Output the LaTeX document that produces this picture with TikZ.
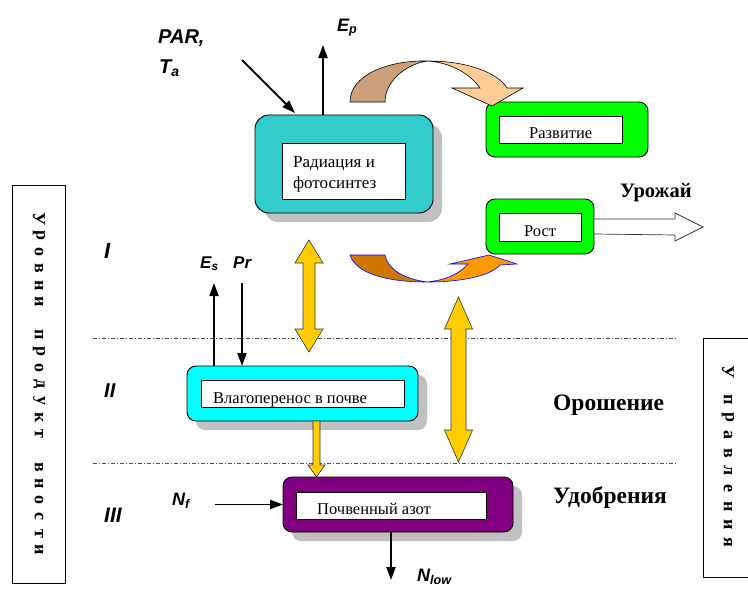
\documentclass[tikz,border=0pt]{standalone}
\usepackage{fontspec}
\setmainfont{Liberation Serif}
\newfontfamily\sansf{Liberation Sans}
\usetikzlibrary{arrows.meta,shadows,calc}
\definecolor{teal1}{HTML}{33CCCC}
\definecolor{green1}{HTML}{00FF00}
\definecolor{cyan1}{HTML}{00FFFF}
\definecolor{purple1}{HTML}{800080}
\definecolor{shade1}{HTML}{C0C0C0}
\definecolor{yel1}{HTML}{FFCC00}
\definecolor{tan1}{HTML}{CC9F78}
\definecolor{peach1}{HTML}{FFCC99}
\definecolor{dorange1}{HTML}{CC7700}
\definecolor{orange1}{HTML}{FF9900}
\newcommand\lblfont[1]{\sansf\bfseries\itshape\fontsize{#1}{#1}\selectfont}
% vertical double arrow: #1 top tip, #2 bottom tip, #3 shaft half width, #4 head half width, #5 head length
\newcommand\yvdouble[5]{%
  \draw[yarrow] (#1) -- ($(#1)+(#4,#5)$) -- ($(#1)+(#3,#5)$) -- ($(#2)+(#3,-#5)$) -- ($(#2)+(#4,-#5)$) -- (#2)
    -- ($(#2)+(-#4,-#5)$) -- ($(#2)+(-#3,-#5)$) -- ($(#1)+(-#3,#5)$) -- ($(#1)+(-#4,#5)$) -- cycle;}
\begin{document}
\begin{tikzpicture}[x=1pt,y=-1pt,
  outerbox/.style={draw=black,line width=0.9pt,rounded corners=9pt,inner sep=0pt,outer sep=0pt},
  shadowed/.style={drop shadow={shadow xshift=9pt,shadow yshift=-9pt,fill=shade1,opacity=1}},
  innerbox/.style={draw=black,fill=white,line width=0.8pt,inner sep=0pt,outer sep=0pt},
  boxtext/.style={anchor=base west,inner sep=0pt,font=\fontsize{16.5}{20}\selectfont},
  bigtext/.style={anchor=base west,inner sep=0pt,font=\bfseries\fontsize{20.5}{20}\selectfont},
  lbl/.style={anchor=base west,inner sep=0pt},
  vletter/.style={rotate=-90,inner sep=0pt,font=\bfseries\fontsize{18}{18}\selectfont},
  blk/.style={line width=1.9pt,-{Triangle[length=13pt,width=9pt]}},
  yarrow/.style={fill=yel1,draw=black!80,line width=0.6pt,line join=miter},
  dashdot/.style={draw=black!70,line width=0.6pt,dash pattern=on 4pt off 2pt on 1pt off 2pt}
]
\useasboundingbox (0,0) rectangle (748,589);

% side boxes
\draw[line width=0.8pt] (12,185) rectangle (65,583);
\draw[line width=0.8pt] (749,338) -- (703,338) -- (703,577) -- (749,577);
\foreach \ch [count=\i from 0] in {У,р,о,в,н,и,{},п,р,о,д,у,к,т,{},в,н,о,с,т,и}
  \node[vletter] (lv\i) at (39,{219+\i*16.55}) {\ch};
\node[vletter] (rv0) at (728,372) {У};
\foreach \ch [count=\i from 1] in {п,р,а,в,л,е,н,и,я}
  \node[vletter] (rv\i) at (728,{382+\i*17.8}) {\ch};

% level separators
\draw[dashdot] (93,338) -- (676,338);
\draw[dashdot] (93,463) -- (676,463);

% boxes
\node[outerbox,shadowed,fill=teal1,rounded corners=14pt,minimum width=178pt,minimum height=98pt] (rad) at (344,164) {};
\node[innerbox,minimum width=123pt,minimum height=56pt] (radin) at (343.5,171) {};
\node[boxtext,font=\fontsize{17}{20}\selectfont,align=left] (radt) at (293,167) {Радиация и};
\node[boxtext,font=\fontsize{17}{20}\selectfont] (radt2) at (293,188) {фотосинтез};

\node[outerbox,fill=green1,minimum width=162pt,minimum height=55pt] (razv) at (567,129.5) {};
\node[innerbox,minimum width=123pt,minimum height=27pt] (razvin) at (560.5,129.5) {};
\node[boxtext] (razvt) at (529,138) {Развитие};

\node[outerbox,fill=green1,minimum width=108pt,minimum height=55pt] (rost) at (540,226.5) {};
\node[innerbox,minimum width=82pt,minimum height=28pt] (rostin) at (540,227) {};
\node[boxtext] (rostt) at (524,236) {Рост};

\node[outerbox,shadowed,fill=cyan1,minimum width=231pt,minimum height=55pt] (vlag) at (302.5,393.5) {};
\node[innerbox,minimum width=203pt,minimum height=27pt] (vlagin) at (302.5,393.5) {};
\node[boxtext] (vlagt) at (213,403) {Влагоперенос в почве};

\node[outerbox,shadowed,fill=purple1,minimum width=230pt,minimum height=55pt] (azot) at (398,504.5) {};
\node[innerbox,minimum width=190pt,minimum height=27pt] (azotin) at (391,505.5) {};
\node[boxtext] (azott) at (317,514) {Почвенный азот};

% curved arrow top (to Развитие)
\filldraw[fill=tan1,draw=black,line width=0.6pt] (350,102) .. controls (350,75) and (388,60) .. (428,61)
  .. controls (405,64) and (385,82) .. (385,102) -- cycle;
\filldraw[fill=peach1,draw=black,line width=0.6pt,line join=miter] (428,61) .. controls (466,61) and (497,72) .. (507,88)
  -- (523,88) -- (492,106) -- (452,88) -- (480,88) .. controls (470,74) and (452,63) .. (428,61) -- cycle;

% curved arrow bottom (to Рост)
\filldraw[fill=dorange1,draw=blue,line width=0.6pt] (350,255) .. controls (356,274) and (388,282) .. (427,282)
  .. controls (405,279) and (388,270) .. (385,255) -- cycle;
\filldraw[fill=orange1,draw=blue,line width=0.6pt,line join=miter] (427,282) .. controls (462,282) and (490,276) .. (500,265)
  -- (517,264) -- (489,255) -- (450,264) -- (468,264) .. controls (458,275) and (445,280) .. (427,282) -- cycle;

% yield arrow
\draw[fill=white,draw=black!80,line width=0.7pt,line join=miter]
  ($(rost.east)+(0,-7.5)$) -- ++(81,0) -- ++(0,-6) -- ++(28,14) -- ++(-28,14) -- ++(0,-6) -- ($(rost.east)+(0,7.5)$) -- cycle;
\node[bigtext] (yield) at (620,197) {Урожай};

% yellow arrows
\coordinate (d1t) at (309,240);
\coordinate (d1b) at (309,352);
\yvdouble{d1t}{d1b}{6}{14}{23}
\coordinate (d2t) at (458.5,297);
\coordinate (d2b) at (458.5,462);
\yvdouble{d2t}{d2b}{7.5}{14}{32}
\coordinate (ys) at ($(vlag.south)+(14,0)$);
\coordinate (ye) at ($(azot.north)+(-81.5,0)$);
\draw[yarrow] ($(ys)+(-3.5,0)$) -- ($(ys)+(3.5,0)$) -- ($(ye)+(3.5,-12)$) -- ($(ye)+(8.5,-12)$) -- (ye)
  -- ($(ye)+(-8.5,-12)$) -- ($(ye)+(-3.5,-12)$) -- cycle;

% black arrows
\coordinate (parst) at (242,60);
\draw[blk] (parst) -- ($(rad.north)+(-49,-2)$);
\coordinate (ept) at (323,45);
\draw[blk] ($(rad.north)+(-21,0)$) -- (ept);
\coordinate (est) at (214,283);
\draw[blk] ($(vlag.north)+(-88.5,0)$) -- (est);
\coordinate (prt) at (242,283);
\draw[blk] (prt) -- ($(vlag.north)+(-60.5,0)$);
\coordinate (nft) at (215,504.5);
\draw[blk] (nft) -- (azot.west);
\coordinate (nlt) at (391,580);
\draw[blk] ($(azot.south)+(-7,0)$) -- (nlt);

% labels
\node[lbl,font=\lblfont{20}] (par) at (158,43) {PAR,};
\node[lbl,font=\lblfont{20}] (ta) at (159,73) {T\textsubscript{a}};
\node[lbl,font=\lblfont{18}] (ep) at (337,31) {E\textsubscript{p}};
\node[lbl,font=\lblfont{17}] (es) at (200,268) {E\textsubscript{s}};
\node[lbl,font=\lblfont{17}] (pr) at (233,268) {Pr};
\node[lbl,font=\lblfont{22}] (l1) at (104,258) {I};
\node[lbl,font=\lblfont{20}] (l2) at (104,397) {II};
\node[lbl,font=\lblfont{21}] (l3) at (104,522) {III};
\node[lbl,font=\lblfont{18}] (nf) at (172,505) {N\textsubscript{f}};
\node[lbl,font=\lblfont{18}] (nl) at (417,581) {N\textsubscript{low}};
\node[bigtext,font=\bfseries\fontsize{23.5}{24}\selectfont] (oros) at (553,410) {Орошение};
\node[bigtext,font=\bfseries\fontsize{23.5}{24}\selectfont] (udob) at (553,503) {Удобрения};
\end{tikzpicture}
\end{document}
